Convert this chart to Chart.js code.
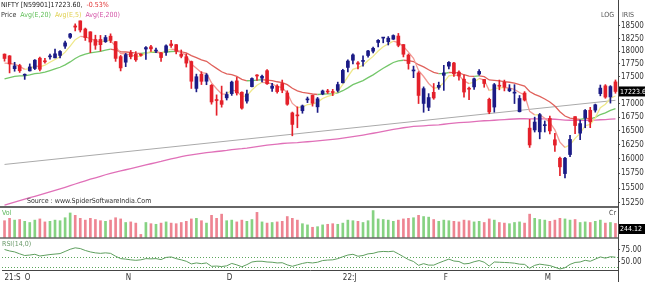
<!DOCTYPE html>
<html><head><meta charset="utf-8">
<script src="https://cdn.jsdelivr.net/npm/chart.js@4.4.0/dist/chart.umd.min.js"></script>
<style>
html,body{margin:0;padding:0;background:#fff;}
#wrap{position:relative;width:645px;height:282px;overflow:hidden;font-family:'Liberation Sans Narrow','DejaVu Sans Condensed','Liberation Sans',sans-serif;}
canvas{position:absolute;left:0;top:0;}
.t{position:absolute;font-size:7px;line-height:8px;white-space:nowrap;}
</style></head><body>
<div id="wrap">
<canvas id="c" width="645" height="282"></canvas>
<div class="t" style="left:1px;top:1px;color:#222">NIFTY [N59901]17223.60, &nbsp;<span style="color:#e03030">-0.53%</span></div>
<div class="t" style="left:1px;top:11px;"><span style="color:#333">Price</span> &nbsp;<span style="color:#62c05a">Avg(E,20)</span> &nbsp;<span style="color:#e0d050">Avg(E,5)</span> &nbsp;<span style="color:#d455a8">Avg(E,200)</span></div>
<div class="t" style="left:601px;top:11px;color:#555">LOG</div>
<div class="t" style="left:622px;top:11px;color:#555">IRIS</div>
<div class="t" style="left:27px;top:197px;color:#333">Source : www.SpiderSoftwareIndia.Com</div>
<div class="t" style="left:2px;top:209px;color:#5cb85c">Vol</div>
<div class="t" style="left:609px;top:209px;color:#444">Cr</div>
<div class="t" style="left:2px;top:240px;color:#6a9a6a">RSI(14,0)</div>
</div>
<script>
const categories = [
'2021-09-27','2021-09-28','2021-09-29','2021-09-30',
'2021-10-01','2021-10-04','2021-10-05','2021-10-06','2021-10-07','2021-10-08','2021-10-11','2021-10-12','2021-10-13','2021-10-14','2021-10-18','2021-10-19','2021-10-20','2021-10-21','2021-10-22','2021-10-25','2021-10-26','2021-10-27','2021-10-28','2021-10-29',
'2021-11-01','2021-11-02','2021-11-03','2021-11-04','2021-11-08','2021-11-09','2021-11-10','2021-11-11','2021-11-12','2021-11-15','2021-11-16','2021-11-17','2021-11-18','2021-11-22','2021-11-23','2021-11-24','2021-11-25','2021-11-26','2021-11-29','2021-11-30',
'2021-12-01','2021-12-02','2021-12-03','2021-12-06','2021-12-07','2021-12-08','2021-12-09','2021-12-10','2021-12-13','2021-12-14','2021-12-15','2021-12-16','2021-12-17','2021-12-20','2021-12-21','2021-12-22','2021-12-23','2021-12-24','2021-12-27','2021-12-28','2021-12-29','2021-12-30','2021-12-31',
'2022-01-03','2022-01-04','2022-01-05','2022-01-06','2022-01-07','2022-01-10','2022-01-11','2022-01-12','2022-01-13','2022-01-14','2022-01-17','2022-01-18','2022-01-19','2022-01-20','2022-01-21','2022-01-24','2022-01-25','2022-01-27','2022-01-28','2022-01-31',
'2022-02-01','2022-02-02','2022-02-03','2022-02-04','2022-02-07','2022-02-08','2022-02-09','2022-02-10','2022-02-11','2022-02-14','2022-02-15','2022-02-16','2022-02-17','2022-02-18','2022-02-21','2022-02-22','2022-02-23','2022-02-24','2022-02-25','2022-02-28',
'2022-03-02','2022-03-03','2022-03-04','2022-03-07','2022-03-08','2022-03-09','2022-03-10','2022-03-11','2022-03-14','2022-03-15','2022-03-16','2022-03-17','2022-03-21','2022-03-22','2022-03-23'];

const openP = [
17940,17906,17657,17718,17531,17615,17661,17861,17810,17887,
17868,17915,18097,18273,18500,18603,18439,18382,18229,18230,
18185,18295,18187,17891,17783,17970,17936,17935,18040,18084,
18000,17967,17977,18140,18127,17939,17890,17796,17281,17550,
17417,17339,17056,17052,17104,17183,17424,17209,17044,17315,
17524,17476,17619,17283,17324,17374,17196,16825,16773,16865,
17066,17150,16937,17177,17220,17212,17244,17388,17681,17821,
17769,17798,17913,17997,18170,18257,18185,18235,18298,18129,
17921,17614,17575,17000,16929,17208,17301,17530,17706,17767,
17591,17456,17280,17310,17554,17451,17077,16933,17336,17396,
17236,17192,16847,17194,16548,16515,16481,16593,16723,16339,
16013,15747,16078,16757,16457,16733,16874,16876,17183,17330,
17121,17405];
const highP = [
17945,17912,17781,17743,17557,17750,17833,17884,17857,17942,
18041,18009,18197,18350,18543,18604,18458,18384,18315,18310,
18310,18342,18189,17915,17954,18012,17989,17947,18087,18112,
18061,17971,18124,18210,18129,18022,17946,17806,17553,17600,
17564,17355,17160,17325,17213,17420,17490,17217,17252,17484,
17544,17534,17640,17376,17351,17440,17237,16841,16937,16971,
17119,17155,17112,17250,17264,17264,17400,17646,17827,17944,
17797,17905,18017,18081,18227,18272,18287,18322,18350,18130,
17944,17707,17600,17310,17183,17374,17400,17722,17794,17781,
17617,17536,17306,17477,17640,17454,17099,17375,17440,17439,
17352,17352,17148,17221,16706,16748,16815,16678,16768,16456,
16035,16028,16418,16758,16694,16888,16928,16988,17345,17353,
17334,17442];
const lowP = [
17802,17576,17608,17585,17452,17612,17640,17613,17763,17840,
17865,17864,18050,18248,18400,18378,18210,17969,18034,18000,
18171,18167,17799,17614,17697,17847,17799,17900,17836,17993,
17969,17798,17915,18071,17945,17867,17689,17280,17216,17354,
17351,16986,16782,16931,17064,17150,17156,16892,17004,17308,
17434,17405,17355,17225,17192,17200,16966,16410,16555,16819,
17015,16950,16834,17162,17186,17146,17212,17383,17593,17749,
17655,17704,17879,17964,18081,18163,18120,18228,18084,17885,
17648,17485,16998,16837,16866,17077,17264,17244,17655,17511,
17435,17119,17071,17260,17535,17303,16810,16839,17255,17234,
17219,16998,16843,17045,16203,16478,16356,16478,16442,16133,
15711,15671,16040,16447,16340,16555,16556,16839,17142,17096,
17006,17190];
const closeP = [
17855,17748,17711,17618,17532,17691,17822,17646,17790,17895,
17946,17992,18162,18339,18477,18419,18267,18179,18115,18126,
18268,18211,17857,17672,17930,17889,17829,17917,18069,18044,
18017,17873,18103,18109,17999,17898,17765,17417,17503,17416,
17537,17027,17054,16983,17167,17401,17197,16913,17177,17469,
17517,17512,17369,17325,17221,17248,16985,16615,16771,16955,
17073,17004,17086,17233,17214,17204,17354,17625,17805,17925,
17746,17812,18003,18055,18212,18257,18255,18308,18113,17938,
17757,17617,17149,17277,17110,17102,17339,17576,17780,17560,
17516,17213,17266,17463,17605,17374,16842,17352,17322,17304,
17276,17206,17092,17063,16247,16658,16794,16606,16498,16245,
15863,16013,16345,16595,16630,16871,16663,16975,17287,17118,
17316,17223.6];
const ema5 = [
17765,17759,17743,17701,17645,17660,17714,17691,17724,17781,
17836,17888,17979,18099,18225,18290,18282,18248,18204,18178,
18208,18209,18092,17952,17945,17926,17894,17902,17958,17987,
17997,17956,18005,18040,18026,17983,17910,17746,17665,17582,
17567,17387,17276,17178,17174,17250,17232,17126,17143,17252,
17340,17397,17388,17367,17318,17295,17192,17000,16924,16934,
16980,16988,17021,17092,17133,17157,17223,17357,17506,17646,
17679,17723,17816,17896,18001,18086,18142,18197,18169,18092,
17980,17859,17622,17507,17375,17284,17302,17393,17522,17535,
17529,17424,17371,17402,17470,17438,17239,17277,17292,17296,
17289,17261,17205,17158,16854,16789,16791,16729,16652,16516,
16298,16203,16250,16365,16453,16592,16616,16736,16920,16986,
17096,17139];
const ema20 = [
17461,17488,17510,17520,17521,17537,17564,17572,17593,17622,
17653,17685,17730,17788,17854,17908,17942,17965,17979,17993,
18019,18037,18020,17987,17982,17973,17959,17955,17966,17973,
17977,17967,17980,17992,17993,17984,17963,17911,17872,17829,
17801,17727,17663,17598,17557,17542,17509,17452,17426,17430,
17438,17445,17438,17427,17407,17392,17353,17283,17234,17207,
17194,17176,17167,17173,17177,17180,17197,17238,17292,17352,
17390,17430,17485,17539,17603,17665,17721,17777,17809,17821,
17815,17796,17734,17691,17636,17585,17562,17563,17584,17582,
17576,17541,17515,17510,17519,17505,17442,17433,17422,17411,
17398,17380,17353,17325,17222,17168,17132,17082,17026,16952,
16848,16769,16729,16716,16708,16724,16718,16743,16795,16826,
16873,16906];
const ema200 = [
15216,15241,15265,15290,15313,15338,15362,15386,15410,15434,
15459,15485,15512,15540,15569,15597,15624,15650,15675,15700,
15727,15752,15773,15792,15813,15833,15853,15874,15896,15917,
15938,15957,15979,16001,16021,16040,16057,16071,16085,16098,
16113,16122,16131,16140,16150,16163,16174,16182,16192,16205,
16218,16231,16242,16253,16263,16273,16280,16284,16289,16296,
16304,16311,16319,16328,16337,16346,16356,16368,16382,16397,
16410,16424,16440,16456,16473,16491,16508,16526,16541,16555,
16567,16578,16584,16590,16596,16601,16608,16618,16629,16638,
16646,16652,16658,16666,16675,16682,16684,16691,16697,16703,
16709,16714,16718,16721,16716,16716,16717,16716,16714,16709,
16701,16694,16691,16690,16689,16691,16691,16694,16700,16704,
16710,16715];
const volume = [
290,330,300,310,280,260,300,320,270,280,
300,290,340,420,380,330,300,330,310,290,
280,300,340,320,260,270,250,60,260,240,
230,250,270,250,240,260,280,320,330,290,
250,380,330,400,290,300,270,300,280,310,
430,270,250,260,270,280,360,330,300,240,
220,180,190,220,230,240,230,250,300,290,
280,260,290,460,320,310,300,280,300,320,
330,340,380,360,350,310,280,300,290,280,
270,300,290,270,280,260,320,300,260,250,
240,260,270,250,400,330,310,300,280,300,
330,320,300,310,260,270,260,280,300,250,
260,244.12];
const rsi = [
76,73,71,67,63.5,64.5,66,62.5,64,65.5,
66.5,67.5,72,76.5,79.5,78,74,71,69,68,
69,68,62,57,56,54.5,53.5,54.5,57,56.5,
57,55,59.5,60.5,57,54.5,51.5,46,48,46.5,
48,41,41.5,40.5,42,47,44,40,44.5,50,
51.5,51.5,50,49.5,48,48.5,44,41,44,47,
49,48,49.5,53,54,54.5,57,61,64.5,66,
62,63.5,67,68,71,72,71.5,72.5,67,61,
55,51,43,46.5,43.5,43.5,48,52,56,52,
51,46,47,50.5,53,49.5,41.5,50,49.5,49,
48.5,47.5,45.5,45,37,43,45.5,44,42.5,39,
35.5,38,45,49,50,53.5,51.5,56,60.5,58,
61,60];
const trendLine = [15905, 17058];
const priceTicks = [18500,18250,18000,17750,17500,17000,16750,16500,16250,16000,15750,15500,15250];
const rsiTicks = [75, 50];
const rsiLevels = [60, 40];
const xTickIdx = [0,4,24,44,67,87,107];
const xTickText = ['21:S','O','N','D','22:J','F','M'];

const lastIdx = categories.length - 1;
const trendData = categories.map((_, i) => i === 0 ? trendLine[0] : (i === lastIdx ? trendLine[1] : null));
const UP = '#1b1b86', DN = '#e4202a';
const candleCol = closeP.map((c,i)=> c >= openP[i] ? UP : DN);
const volCol = closeP.map((c,i)=> c >= openP[i] ? '#86d282' : '#ee8592');
const FONT = "'Liberation Sans Narrow','DejaVu Sans Condensed','Liberation Sans',sans-serif";
const tickFont = {family: FONT, size: 8};

const panelPlugin = {
  id: 'panels',
  beforeDatasetsDraw(chart) {
    const {ctx, chartArea: a, scales: s} = chart;
    ctx.save();
    ctx.strokeStyle = '#5aa55a'; ctx.lineWidth = 1; ctx.setLineDash([1, 2]);
    rsiLevels.forEach(v => {
      const y = Math.round(s.yR.getPixelForValue(v)) + 0.5;
      ctx.beginPath(); ctx.moveTo(a.left, y); ctx.lineTo(a.right, y); ctx.stroke();
    });
    ctx.restore();
  },
  afterDraw(chart) {
    const {ctx, chartArea: a, scales: s} = chart;
    ctx.save();
    ctx.strokeStyle = '#666';
    ctx.lineWidth = 2;
    ctx.beginPath(); ctx.moveTo(0, s.yP.bottom); ctx.lineTo(a.right, s.yP.bottom); ctx.stroke();
    ctx.lineWidth = 1.5;
    ctx.beginPath(); ctx.moveTo(0, s.yV.bottom); ctx.lineTo(a.right, s.yV.bottom); ctx.stroke();
    ctx.lineWidth = 1; ctx.strokeStyle = '#444';
    ctx.beginPath(); ctx.moveTo(a.right + 0.5, a.bottom); ctx.lineTo(a.right + 0.5, chart.height); ctx.stroke();
    const boxes = [
      [s.yP.getPixelForValue(closeP[lastIdx]), closeP[lastIdx].toFixed(1)],
      [s.yV.bottom - 9, volume[lastIdx].toFixed(2)]
    ];
    ctx.font = "7px " + FONT;
    ctx.textBaseline = 'middle';
    boxes.forEach(([y, txt]) => {
      ctx.fillStyle = '#000';
      ctx.fillRect(a.right + 1, y - 5, chart.width - a.right - 1, 10);
      ctx.fillStyle = '#fff';
      ctx.fillText(txt, a.right + 2, y + 0.5);
    });
    ctx.restore();
  }
};

const noPad = s => { s.paddingTop = 0; s.paddingBottom = 0; s.paddingLeft = 0; s.paddingRight = 0; };
const yBase = {
  position: 'right', stack: 'p', bounds: 'data',
  grid: {display: true, drawOnChartArea: false, drawTicks: true, tickLength: 2, color: '#555'},
  border: {display: true, color: '#444', width: 1},
  ticks: {color: '#333', padding: 1, font: tickFont, autoSkip: false},
  afterFit: s => { s.width = 27; noPad(s); }
};

new Chart(document.getElementById('c'), {
  type: 'bar',
  data: {
    labels: categories,
    datasets: [
      {type: 'bar', label: 'body', data: openP.map((o,i)=>[o, closeP[i]]), backgroundColor: candleCol, barThickness: 3, minBarLength: 1, grouped: false, yAxisID: 'yP', order: 0, borderWidth: 0},
      {type: 'bar', label: 'wick', data: lowP.map((l,i)=>[l, highP[i]]), backgroundColor: candleCol, barThickness: 1, grouped: false, yAxisID: 'yP', order: 1, borderWidth: 0},
      {type: 'line', label: 'Avg(E,5)', data: ema5, yAxisID: 'yP', borderWidth: 1.3, pointRadius: 0, tension: 0, order: 3,
        segment: {borderColor: c => closeP[c.p1DataIndex] >= ema5[c.p1DataIndex] ? '#efe88a' : '#f29a94'}},
      {type: 'line', label: 'Avg(E,20)', data: ema20, yAxisID: 'yP', borderWidth: 1.3, pointRadius: 0, tension: 0, order: 4,
        segment: {borderColor: c => closeP[c.p1DataIndex] >= ema20[c.p1DataIndex] ? '#74c76a' : '#e0625c'}},
      {type: 'line', label: 'Avg(E,200)', data: ema200, yAxisID: 'yP', borderColor: '#e070b8', borderWidth: 1.3, pointRadius: 0, tension: 0, order: 5},
      {type: 'line', label: 'trend', data: trendData, spanGaps: true, yAxisID: 'yP', borderColor: '#aaaaaa', borderWidth: 1, pointRadius: 0, order: 6},
      {type: 'bar', label: 'Vol', data: volume, backgroundColor: volCol, barThickness: 2, grouped: false, yAxisID: 'yV', order: 0, borderWidth: 0},
      {type: 'line', label: 'RSI', data: rsi, yAxisID: 'yR', borderColor: '#5f9f5f', borderWidth: 1, pointRadius: 0, tension: 0, order: 0}
    ]
  },
  options: {
    responsive: false, animation: false, devicePixelRatio: 1,
    layout: {padding: {left: 2, right: 0, top: 0, bottom: 0}},
    plugins: {legend: {display: false}, tooltip: {enabled: false}},
    scales: {
      x: {type: 'category', offset: true,
        grid: {display: false, drawTicks: false},
        border: {display: true, color: '#444', width: 1},
        afterBuildTicks: s => { s.ticks = xTickIdx.map(v => ({value: v})); },
        ticks: {autoSkip: false, maxRotation: 0, minRotation: 0, align: 'start', padding: 3, color: '#333', font: tickFont,
          callback: v => xTickText[xTickIdx.indexOf(v)]},
        afterFit: s => { s.height = 12; noPad(s); }},
      yP: Object.assign({}, yBase, {type: 'logarithmic', stackWeight: 207, weight: 1, min: 15183, max: 19032,
        afterBuildTicks: s => { s.ticks = priceTicks.map(v => ({value: v})); },
        ticks: Object.assign({}, yBase.ticks, {callback: v => String(v)})}),
      yV: Object.assign({}, yBase, {type: 'linear', stackWeight: 31, weight: 2, min: 0, max: 520,
        afterBuildTicks: s => { s.ticks = []; }}),
      yR: Object.assign({}, yBase, {type: 'linear', stackWeight: 32, weight: 3, min: 33.3, max: 100,
        afterBuildTicks: s => { s.ticks = rsiTicks.map(v => ({value: v})); },
        ticks: Object.assign({}, yBase.ticks, {callback: v => v.toFixed(2)})})
    }
  },
  plugins: [panelPlugin]
});
</script>
</body></html>
